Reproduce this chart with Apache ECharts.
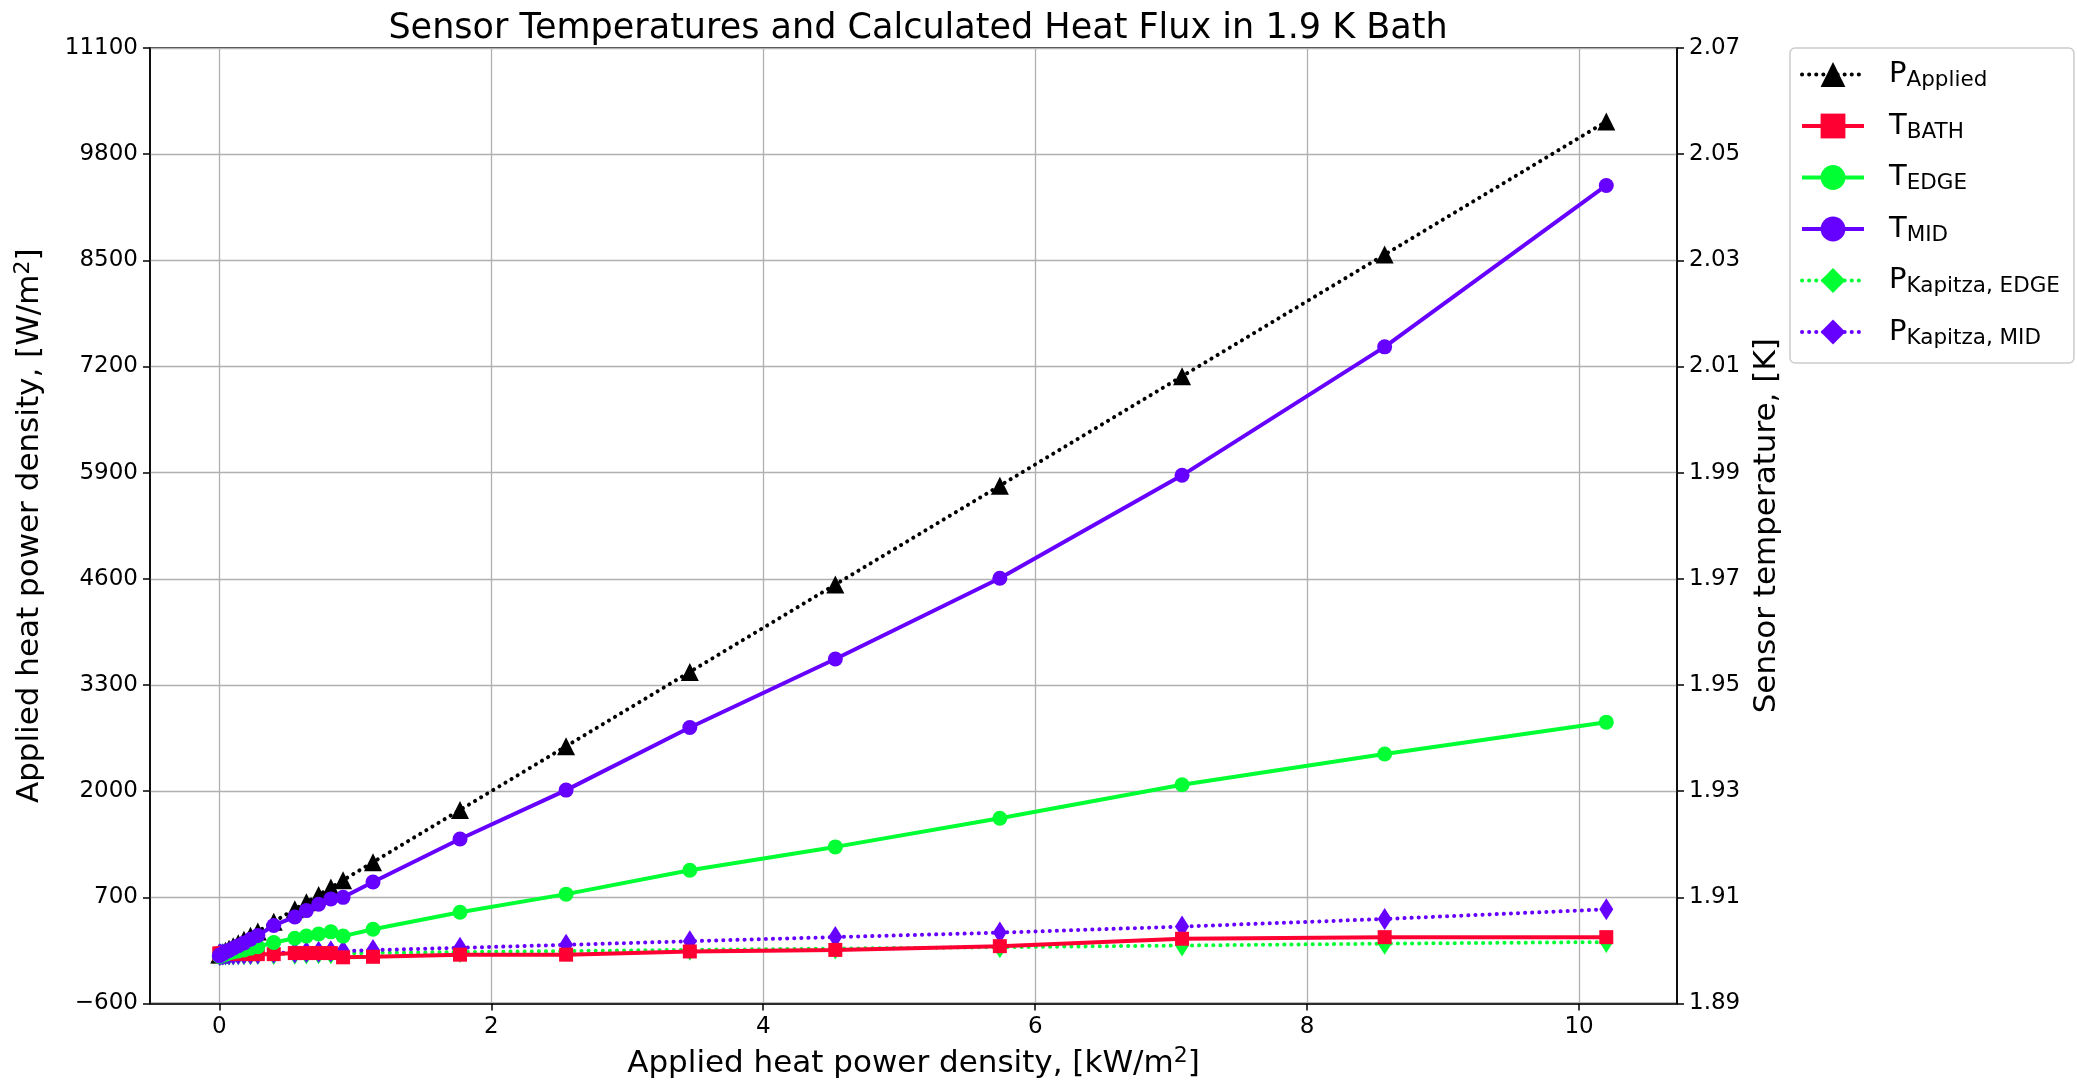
<!DOCTYPE html>
<html>
<head>
<meta charset="utf-8">
<title>Sensor Temperatures and Calculated Heat Flux</title>
<script src="https://cdn.jsdelivr.net/npm/echarts@6/dist/echarts.min.js"></script>
<style>
  html, body { margin: 0; padding: 0; background: #fff; }
  #chart { width: 2077px; height: 1084px; }
</style>
</head>
<body>
<div id="chart"></div>
<script>
// applied heat power density, kW/m2
const xValues = [0, 0.003, 0.011, 0.026, 0.045, 0.071, 0.102, 0.139, 0.181, 0.229, 0.283,
  0.40, 0.555, 0.64, 0.73, 0.82, 0.91, 1.13, 1.77, 2.55, 3.46, 4.53, 5.74, 7.08, 8.57, 10.2];

// left axis, W/m2
const pApplied = [0, 3, 11, 26, 45, 71, 102, 139, 181, 229, 283,
  400, 555, 640, 730, 820, 910, 1130, 1770, 2550, 3460, 4530, 5740, 7080, 8570, 10200];
const pKapitzaEdge = [0, 0, 0, 0, 1, 1, 1, 2, 3, 4, 5,
  7, 10, 12, 14, 15, 14, 19, 30, 42, 57, 72, 90, 110, 133, 152];
const pKapitzaMid = [0, 0, 1, 1, 2, 3, 4, 6, 8, 10, 13,
  20, 26, 30, 35, 39, 42, 54, 82, 118, 163, 213, 268, 342, 435, 553];

// right axis, K
const tBath = [1.8994, 1.8994, 1.8994, 1.8994, 1.8994, 1.8994, 1.8994, 1.8994, 1.8994, 1.8993, 1.8993,
  1.8993, 1.8995, 1.8995, 1.8995, 1.8995, 1.8987, 1.8988, 1.8992, 1.8992, 1.8998, 1.9001, 1.9008, 1.9022, 1.9025, 1.9025];
const tEdge = [1.8989, 1.8989, 1.8990, 1.8991, 1.8993, 1.8995, 1.8997, 1.8999, 1.9001, 1.9004, 1.9007,
  1.9015, 1.9023, 1.9027, 1.9031, 1.9035, 1.9027, 1.9040, 1.9072, 1.9106, 1.9151, 1.9195, 1.9249, 1.9312, 1.9370, 1.9430];
const tMid = [1.8990, 1.8991, 1.8992, 1.8994, 1.8997, 1.9000, 1.9004, 1.9009, 1.9014, 1.9021, 1.9028,
  1.9047, 1.9063, 1.9075, 1.9087, 1.9097, 1.9100, 1.9129, 1.9210, 1.9302, 1.9420, 1.9549, 1.9701, 1.9895, 2.0137, 2.0441];

// tick labels
const xTicks = [0, 2, 4, 6, 8, 10];
const leftTicks = [-600, 700, 2000, 3300, 4600, 5900, 7200, 8500, 9800, 11100];
const rightTicks = [1.89, 1.91, 1.93, 1.95, 1.97, 1.99, 2.01, 2.03, 2.05, 2.07];

const FONT = "DejaVu Sans";
const BLACK = "#000000";
const RED = "#ff0033";
const GREEN = "#00ff33";
const PURPLE = "#6600ff";
const DOTS = [0.1, 7];
const LW = 4;

const pairs = (ys) => xValues.map((x, i) => [x, ys[i]]);
const minus = (v) => String(v).replace("-", "\u2212");

const chart = echarts.init(document.getElementById("chart"));

const axisCommon = {
  axisLine: { show: true, onZero: false, lineStyle: { color: BLACK, width: 1.5 } },
  axisTick: { show: true, inside: false, length: 7, lineStyle: { color: BLACK, width: 1.5 } },
};

const nameRich = {
  n: { fontFamily: FONT, fontSize: 31, color: BLACK, lineHeight: 36 },
  p: { fontFamily: FONT, fontSize: 22, color: BLACK, lineHeight: 20, verticalAlign: "top" },
};

const option = {
  backgroundColor: "#fff",
  animation: false,
  title: {
    text: "Sensor Temperatures and Calculated Heat Flux in 1.9 K Bath",
    left: 913,
    top: 6,
    textAlign: "center",
    textStyle: { fontFamily: FONT, fontSize: 35, fontWeight: "normal", color: BLACK },
  },
  grid: {
    left: 150,
    right: 400,
    top: 48,
    bottom: 79,
    show: true,
    borderColor: BLACK,
    borderWidth: 1.5,
  },
  legend: {
    orient: "vertical",
    left: 1790,
    top: 48,
    padding: [12, 14, 14, 10],
    itemWidth: 62,
    itemHeight: 31,
    itemGap: 20,
    backgroundColor: "#fff",
    borderColor: "#cccccc",
    borderWidth: 1.5,
    borderRadius: 5,
    lineStyle: { width: LW },
    data: ["P_Applied", "T_BATH", "T_EDGE", "T_MID", "P_Kapitza, EDGE", "P_Kapitza, MID"],
    formatter: (name) => {
      const [main, sub] = name.split("_");
      return "{m|" + main + "}{s|" + sub + "}";
    },
    textStyle: {
      fontFamily: FONT,
      color: BLACK,
      rich: {
        m: { fontFamily: FONT, fontSize: 29, lineHeight: 34, color: BLACK, padding: [0, 0, 0, 20] },
        s: { fontFamily: FONT, fontSize: 21.5, lineHeight: 16, verticalAlign: "bottom", color: BLACK },
      },
    },
  },
  xAxis: {
    type: "value",
    min: -0.51,
    max: 10.72,
    ...axisCommon,
    axisTick: { ...axisCommon.axisTick, customValues: xTicks },
    axisLabel: {
      customValues: xTicks,
      fontFamily: FONT,
      fontSize: 23,
      color: BLACK,
      margin: 12,
    },
    splitLine: { show: true, lineStyle: { color: "#b0b0b0", width: 1.3 } },
    name: "{n|Applied heat power density, [kW/m}{p|2}{n|]}",
    nameLocation: "middle",
    nameGap: 42,
    nameTextStyle: { rich: nameRich },
  },
  yAxis: [
    {
      type: "value",
      min: -600,
      max: 11100,
      ...axisCommon,
      axisTick: { ...axisCommon.axisTick, customValues: leftTicks },
      axisLabel: {
        customValues: leftTicks,
        formatter: minus,
        fontFamily: FONT,
        fontSize: 23,
        color: BLACK,
        margin: 12,
      },
      splitLine: { show: true, lineStyle: { color: "#b0b0b0", width: 1.3 } },
      name: "{n|Applied heat power density, [W/m}{p|2}{n|]}",
      nameLocation: "middle",
      nameGap: 102,
      nameTextStyle: { rich: nameRich },
    },
    {
      type: "value",
      position: "right",
      min: 1.89,
      max: 2.07,
      ...axisCommon,
      axisTick: { ...axisCommon.axisTick, customValues: rightTicks },
      axisLabel: {
        customValues: rightTicks,
        formatter: (v) => v.toFixed(2),
        fontFamily: FONT,
        fontSize: 23,
        color: BLACK,
        margin: 12,
      },
      splitLine: { show: false },
      name: "Sensor temperature, [K]",
      nameLocation: "middle",
      nameGap: 66,
      nameRotate: 90,
      nameTextStyle: { fontFamily: FONT, fontSize: 31, color: BLACK },
    },
  ],
  series: [
    {
      name: "P_Applied",
      type: "line",
      yAxisIndex: 0,
      z: 2,
      data: pairs(pApplied),
      symbol: "triangle",
      symbolSize: 18,
      itemStyle: { color: BLACK },
      lineStyle: { color: BLACK, width: LW, type: DOTS, cap: "round" },
    },
    {
      name: "P_Kapitza, EDGE",
      type: "line",
      yAxisIndex: 0,
      z: 2,
      data: pairs(pKapitzaEdge),
      symbol: "diamond",
      symbolSize: [14, 22],
      itemStyle: { color: GREEN },
      lineStyle: { color: GREEN, width: LW, type: DOTS, cap: "round" },
    },
    {
      name: "P_Kapitza, MID",
      type: "line",
      yAxisIndex: 0,
      z: 2,
      data: pairs(pKapitzaMid),
      symbol: "diamond",
      symbolSize: [14, 22],
      itemStyle: { color: PURPLE },
      lineStyle: { color: PURPLE, width: LW, type: DOTS, cap: "round" },
    },
    {
      name: "T_BATH",
      type: "line",
      yAxisIndex: 1,
      z: 3,
      data: pairs(tBath),
      symbol: "rect",
      symbolSize: 14,
      itemStyle: { color: RED },
      lineStyle: { color: RED, width: LW },
    },
    {
      name: "T_EDGE",
      type: "line",
      yAxisIndex: 1,
      z: 3,
      data: pairs(tEdge),
      symbol: "circle",
      symbolSize: 15,
      itemStyle: { color: GREEN },
      lineStyle: { color: GREEN, width: LW },
    },
    {
      name: "T_MID",
      type: "line",
      yAxisIndex: 1,
      z: 3,
      data: pairs(tMid),
      symbol: "circle",
      symbolSize: 15,
      itemStyle: { color: PURPLE },
      lineStyle: { color: PURPLE, width: LW },
    },
  ],
};

chart.setOption(option);
</script>
</body>
</html>
